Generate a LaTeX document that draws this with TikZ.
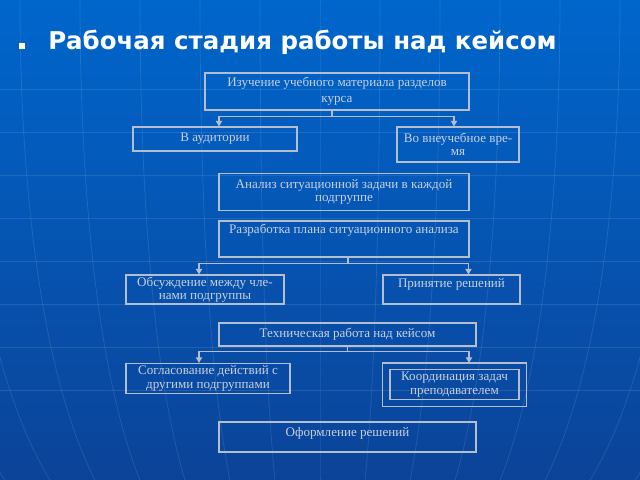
\documentclass[tikz,border=0pt]{standalone}
\usepackage{fontspec}
\setmainfont{Liberation Serif}
\newfontfamily\titlefont{DejaVu Sans}
\usetikzlibrary{arrows.meta}
\newlength\pxu
\setlength\pxu{0.025cm}
\definecolor{bgtop}{HTML}{0066CC}
\definecolor{bgbot}{HTML}{0B4398}
\definecolor{boxline}{HTML}{B4BECF}
\definecolor{boxtext}{HTML}{C8D0DE}
\definecolor{bulletc}{HTML}{FFFFCC}
\begin{document}
\begin{tikzpicture}[x=0.025cm, y=-0.025cm,
    main/.style = {draw=boxline, line width=0.8pt, text=boxtext, align=center, inner sep=0pt,
                   font=\fontsize{9.3}{9.4}\selectfont},
    arr/.style = {draw=boxline, line width=0.8pt, -{Triangle[length=4pt,width=4.5pt]}},
    grid/.style = {draw=white, line width=0.6pt, opacity=0.1}]
    % background
    \useasboundingbox (0,0) rectangle (640,480);
    \shade[top color=bgtop, bottom color=bgbot] (0,0) rectangle (640,480);
    \foreach \y in {89,132,...,391}
        \draw[grid] (0,\y) -- (640,\y);
    \foreach \d in {-420,-360,...,420}
        \draw[grid] (320+\d,0) .. controls (320+\d,200) and (320+0.92*\d,380) .. (320+0.75*\d,480);

    % title
    \fill[bulletc] (19,43) rectangle (25,49);
    \node[anchor=base west, text=white, inner sep=0pt,
          font=\titlefont\bfseries\fontsize{17.4}{20}\selectfont] (title) at (48,50) {Рабочая стадия работы над кейсом};

    % boxes
    \node[main, font=\fontsize{9.3}{11.4}\selectfont, minimum width=264\pxu, minimum height=37\pxu] (ucheb) at (337,91.5) {Изучение учебного материала разделов\\курса};
    \node[main, minimum width=164\pxu, minimum height=24\pxu] (aud) at (215,139) {В аудитории};
    \node[main, minimum width=122\pxu, minimum height=35\pxu] (vne) at (458,144.5) {Во внеучебное вре-\\мя};
    \node[main, minimum width=250\pxu, minimum height=37\pxu] (analiz) at (344,192) {Анализ ситуационной задачи в каждой\\подгруппе};
    \node[main, minimum width=250\pxu, text height=12\pxu, text depth=24\pxu] (plan) at (344,239) {Разработка плана ситуационного анализа};
    \node[main, minimum width=158\pxu, minimum height=29\pxu] (obsuzh) at (205,289.5) {Обсуждение между чле-\\нами подгруппы};
    \node[main, minimum width=137\pxu, text height=12\pxu, text depth=17\pxu] (prin) at (451.5,289.5) {Принятие решений};
    \node[main, minimum width=257\pxu, minimum height=23\pxu] (tehn) at (347.5,334.5) {Техническая работа над кейсом};
    \node[main, minimum width=164\pxu, minimum height=30\pxu] (sogl) at (208,378.5) {Согласование действий с\\другими подгруппами};
    \node[main, font=\fontsize{9.3}{10}\selectfont, minimum width=129\pxu, minimum height=30\pxu] (koord) at (454.5,384.5) {Координация задач\\преподавателем};
    \draw[boxline, line width=0.8pt] ([shift={(-7,6)}]koord.south west) rectangle ([shift={(7,-6)}]koord.north east);
    \node[main, minimum width=257\pxu, text height=14\pxu, text depth=16\pxu] (oform) at (347.5,437) {Оформление решений};

    % connectors
    \draw[arr] ([shift={(-5,0)}]ucheb.south) -- ++(0,6) -| ([shift={(4,0)}]aud.north);
    \draw[arr] ([shift={(-5,0)}]ucheb.south) -- ++(0,6) -| ([shift={(-4,0)}]vne.north);
    \draw[arr] ([shift={(4,0)}]plan.south) -- ++(0,6) -| ([shift={(-6,0)}]obsuzh.north);
    \draw[arr] ([shift={(4,0)}]plan.south) -- ++(0,6) -| ([shift={(17,0)}]prin.north);
    \draw[arr] (tehn.south) -- ++(0,5) -| ([shift={(-9,0)}]sogl.north);
    \draw[arr] (tehn.south) -- ++(0,5) -| ([shift={(14.5,-6)}]koord.north);
\end{tikzpicture}
\end{document}
